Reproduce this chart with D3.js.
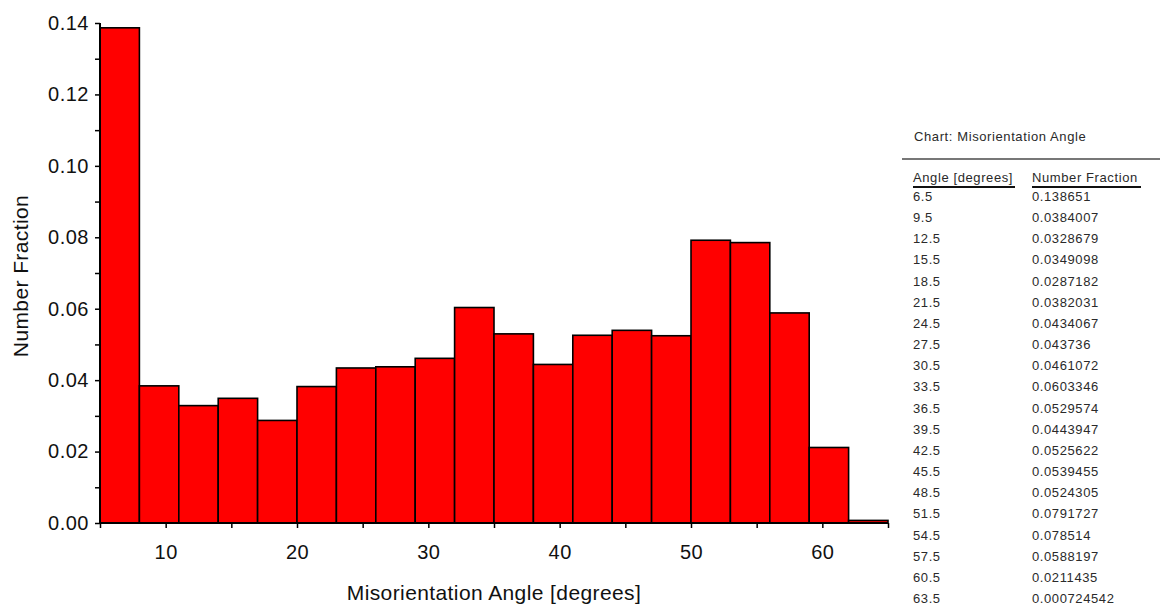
<!DOCTYPE html>
<html>
<head>
<meta charset="utf-8">
<script src="https://cdn.jsdelivr.net/npm/d3@7"></script>
<style>
  body { margin: 0; background: #fff; }
  svg { display: block; font-family: "Liberation Sans", Arial, sans-serif; }
</style>
</head>
<body>
<svg id="chart" width="1160" height="607"></svg>
<script>
// Bin centres (degrees) and number fractions
const angles = [6.5, 9.5, 12.5, 15.5, 18.5, 21.5, 24.5, 27.5, 30.5, 33.5, 36.5, 39.5,
  42.5, 45.5, 48.5, 51.5, 54.5, 57.5, 60.5, 63.5];
const fractionLabels = ["0.138651", "0.0384007", "0.0328679", "0.0349098", "0.0287182",
  "0.0382031", "0.0434067", "0.043736", "0.0461072", "0.0603346", "0.0529574", "0.0443947",
  "0.0525622", "0.0539455", "0.0524305", "0.0791727", "0.078514", "0.0588197", "0.0211435",
  "0.000724542"];
const fractions = fractionLabels.map(Number);
const binWidth = 3;
const xTicks = [10, 20, 30, 40, 50, 60];
const xMinorTicks = [5, 15, 25, 35, 45, 55, 65];
const yTicks = [0, 0.02, 0.04, 0.06, 0.08, 0.10, 0.12, 0.14];
const yMinorTicks = [0.01, 0.03, 0.05, 0.07, 0.09, 0.11, 0.13];

const svg = d3.select("#chart");

const x = d3.scaleLinear().domain([5, 65]).range([100, 888]);
const y = d3.scaleLinear().domain([0, 0.14]).range([523, 23]);

// Bars
svg.append("g")
  .selectAll("rect")
  .data(angles)
  .enter()
  .append("rect")
  .attr("x", d => x(d - binWidth / 2))
  .attr("y", (d, i) => y(fractions[i]))
  .attr("width", d => x(d + binWidth / 2) - x(d - binWidth / 2))
  .attr("height", (d, i) => y(0) - y(fractions[i]))
  .attr("fill", "#ff0000")
  .attr("stroke", "#000")
  .attr("stroke-width", 1.6);

// Y axis
const yAxis = svg.append("g")
  .attr("transform", `translate(${x(5)},0)`)
  .call(d3.axisLeft(y).tickValues(yTicks).tickFormat(d3.format(".2f")).tickSize(5).tickPadding(6));
svg.append("g")
  .attr("transform", `translate(${x(5)},0)`)
  .call(d3.axisLeft(y).tickValues(yMinorTicks).tickFormat("").tickSize(5))
  .select(".domain").remove();

// X axis
const xAxis = svg.append("g")
  .attr("transform", `translate(0,${y(0)})`)
  .call(d3.axisBottom(x).tickValues(xTicks).tickFormat(d3.format("d")).tickSize(5).tickPadding(17));
svg.append("g")
  .attr("transform", `translate(0,${y(0)})`)
  .call(d3.axisBottom(x).tickValues(xMinorTicks).tickFormat("").tickSize(5))
  .select(".domain").remove();

yAxis.select(".domain").attr("d", `M0,${y(0)}V${y(0.14)}`).attr("stroke-width", 2);
xAxis.select(".domain").attr("d", `M${x(5)},0H${x(65)}`).attr("stroke-width", 2);
svg.selectAll(".tick line").attr("stroke-width", 1.5);
svg.selectAll(".tick text")
  .style("font-size", "20px")
  .style("letter-spacing", "0.5px")
  .attr("fill", "#111");

// Axis titles
svg.append("text")
  .attr("x", x(35))
  .attr("y", 600)
  .attr("text-anchor", "middle")
  .style("font-size", "21px")
  .style("letter-spacing", "0.4px")
  .attr("fill", "#111")
  .text("Misorientation Angle [degrees]");

svg.append("text")
  .attr("transform", `translate(28,276) rotate(-90)`)
  .attr("text-anchor", "middle")
  .style("font-size", "21px")
  .style("letter-spacing", "0.4px")
  .attr("fill", "#111")
  .text("Number Fraction");

// Data table on the right
const table = svg.append("g")
  .style("font-size", "13px")
  .style("letter-spacing", "0.6px")
  .attr("fill", "#2a2a2a");
table.append("text").attr("x", 914).attr("y", 141).text("Chart:  Misorientation Angle");
table.append("line")
  .attr("x1", 902).attr("x2", 1160).attr("y1", 159).attr("y2", 159)
  .attr("stroke", "#777").attr("stroke-width", 2);

const col1 = 913, col2 = 1032;
table.append("text").attr("x", col1).attr("y", 182).text("Angle [degrees]");
table.append("text").attr("x", col2).attr("y", 182).text("Number Fraction");
table.append("line").attr("x1", col1).attr("x2", 1015).attr("y1", 187).attr("y2", 187)
  .attr("stroke", "#111").attr("stroke-width", 2);
table.append("line").attr("x1", col2).attr("x2", 1141).attr("y1", 187).attr("y2", 187)
  .attr("stroke", "#111").attr("stroke-width", 2);

const rowY = d3.scaleLinear().domain([0, angles.length - 1]).range([201, 603]);
table.selectAll("text.angle")
  .data(angles)
  .enter()
  .append("text")
  .attr("class", "angle")
  .attr("x", col1)
  .attr("y", (d, i) => rowY(i))
  .text(d => d);
table.selectAll("text.frac")
  .data(fractionLabels)
  .enter()
  .append("text")
  .attr("class", "frac")
  .attr("x", col2)
  .attr("y", (d, i) => rowY(i))
  .text(d => d);
</script>
</body>
</html>
